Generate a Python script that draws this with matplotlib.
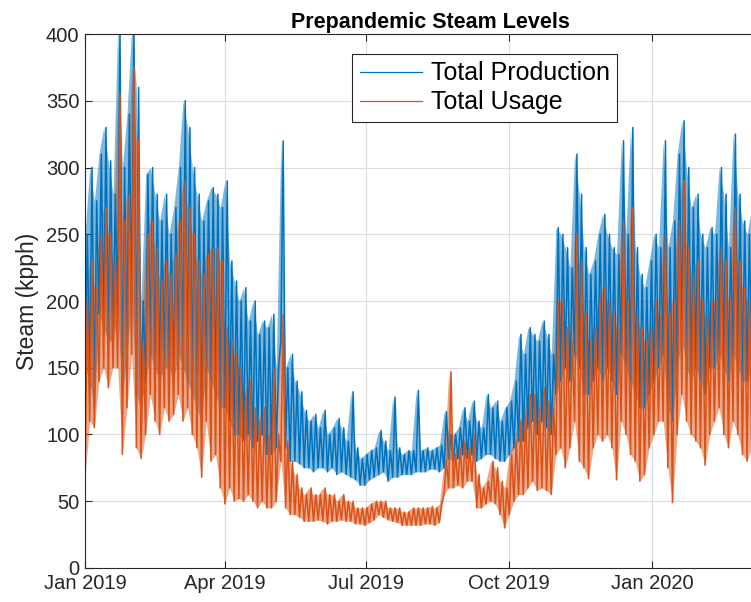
import numpy as np
import matplotlib.pyplot as plt
import matplotlib.dates as mdates

plt.rcParams['font.family'] = ['Liberation Sans', 'DejaVu Sans']

# 3-day windows starting 2019-01-01: peak and trough of each series (kpph)
prod_hi = [250, 300, 275, 310, 330, 305, 280, 405, 300, 340,
           405, 360, 200, 295, 300, 280, 260, 280, 250, 270,
           300, 350, 330, 300, 280, 260, 275, 285, 280, 270,
           290, 230, 215, 200, 210, 185, 200, 175, 185, 180,
           190, 150, 320, 150, 160, 140, 132, 118, 110, 115,
           105, 118, 100, 105, 112, 105, 95, 132, 90, 82,
           85, 88, 90, 103, 95, 88, 128, 90, 85, 88,
           88, 133, 88, 90, 88, 90, 92, 117, 100, 100,
           105, 120, 110, 125, 110, 105, 130, 120, 125, 110,
           120, 125, 140, 175, 160, 180, 175, 170, 185, 175,
           160, 255, 250, 240, 225, 310, 280, 240, 220, 230,
           250, 265, 250, 240, 235, 320, 250, 330, 240, 220,
           210, 230, 250, 240, 320, 240, 260, 310, 335, 300,
           270, 280, 250, 240, 255, 250, 300, 280, 240, 325,
           280, 260, 250, 270]
prod_lo = [150, 140, 120, 190, 180, 170, 170, 190, 130, 160,
           200, 130, 120, 140, 160, 150, 140, 150, 150, 140,
           160, 150, 140, 130, 120, 110, 150, 140, 130, 120,
           120, 110, 100, 100, 95, 100, 90, 95, 100, 85,
           85, 90, 170, 90, 80, 80, 78, 75, 75, 72,
           75, 75, 72, 75, 70, 72, 70, 68, 66, 62,
           62, 66, 68, 70, 72, 65, 68, 68, 70, 70,
           70, 72, 72, 72, 74, 74, 72, 75, 82, 80,
           82, 85, 82, 85, 80, 82, 85, 85, 82, 80,
           80, 85, 90, 95, 95, 105, 110, 100, 110, 105,
           100, 130, 140, 150, 140, 160, 150, 130, 130, 140,
           150, 140, 150, 140, 130, 160, 150, 140, 130, 120,
           120, 130, 140, 150, 160, 120, 110, 150, 170, 150,
           140, 150, 140, 130, 150, 150, 160, 150, 140, 160,
           150, 140, 140, 150]
use_hi = [200, 230, 210, 250, 270, 250, 230, 355, 260, 280,
          375, 320, 170, 250, 260, 240, 215, 230, 220, 235,
          260, 290, 270, 250, 230, 220, 235, 240, 240, 230,
          180, 170, 160, 150, 130, 140, 120, 110, 120, 100,
          150, 100, 190, 95, 80, 70, 60, 55, 60, 55,
          55, 60, 55, 55, 50, 55, 50, 50, 45, 45,
          45, 48, 50, 50, 50, 45, 45, 45, 42, 42,
          45, 45, 45, 45, 46, 45, 48, 80, 147, 85,
          90, 95, 90, 100, 70, 60, 65, 80, 75, 65,
          60, 85, 95, 110, 115, 130, 130, 120, 135, 125,
          120, 200, 200, 180, 170, 250, 230, 190, 170, 180,
          200, 210, 200, 190, 180, 260, 200, 270, 190, 180,
          170, 180, 200, 190, 250, 190, 200, 260, 290, 240,
          220, 230, 200, 190, 200, 200, 240, 230, 200, 270,
          230, 210, 200, 220]
use_lo = [68, 110, 105, 140, 150, 135, 150, 150, 85, 120,
          160, 90, 82, 100, 130, 110, 100, 120, 110, 115,
          130, 110, 120, 100, 90, 68, 110, 80, 85, 60,
          48, 60, 50, 52, 50, 55, 50, 45, 50, 45,
          45, 50, 80, 45, 40, 40, 38, 35, 35, 35,
          36, 35, 33, 35, 35, 36, 35, 35, 33, 33,
          32, 34, 36, 40, 38, 36, 35, 34, 32, 32,
          32, 32, 32, 33, 33, 32, 34, 55, 60, 60,
          62, 60, 65, 65, 45, 45, 48, 50, 48, 40,
          30, 40, 50, 55, 55, 60, 65, 58, 60, 58,
          55, 85, 90, 75, 90, 110, 80, 75, 67, 90,
          100, 95, 100, 90, 66, 110, 100, 85, 80, 65,
          70, 90, 100, 110, 110, 75, 49, 100, 130, 110,
          100, 95, 90, 77, 100, 110, 120, 100, 90, 110,
          100, 85, 80, 90]

labels = ['Total Production', 'Total Usage']
colors = ['#0072BD', '#D95319']

start = np.datetime64('2019-01-01T00')
step_h = 72  # hours per window


def zigzag(lo, hi):
    # trough at the start of each window, peak half way through it
    n = len(lo)
    t = np.empty(2 * n, dtype='datetime64[h]')
    v = np.empty(2 * n)
    t[0::2] = start + np.arange(n) * step_h
    t[1::2] = start + np.arange(n) * step_h + step_h // 2
    v[0::2] = lo
    v[1::2] = hi
    return t, v


fig = plt.figure(figsize=(7.51, 6.02), dpi=100)
ax = fig.add_axes([0.1132, 0.0565, 0.9188, 0.887])

for lo, hi, c, lab in [(prod_lo, prod_hi, colors[0], labels[0]),
                       (use_lo, use_hi, colors[1], labels[1])]:
    t, v = zigzag(lo, hi)
    ax.fill_between(t[0::2], lo, hi, color=c, alpha=0.5, lw=0)
    ax.plot(t, v, color=c, lw=1.1, label=lab)

ax.set_xlim(np.datetime64('2019-01-01'), np.datetime64('2020-03-20'))
ax.set_ylim(0, 400)
ax.set_yticks(np.arange(0, 401, 50))
ax.xaxis.set_major_locator(mdates.MonthLocator(bymonth=[1, 4, 7, 10]))
ax.xaxis.set_major_formatter(mdates.DateFormatter('%b %Y'))

ax.grid(True, color='#dcdcdc', lw=0.8)
ax.set_axisbelow(True)
for s in ax.spines.values():
    s.set_color('#262626')
    s.set_linewidth(0.8)
ax.tick_params(direction='in', length=5, width=0.8, colors='#262626',
               labelsize=14.5, top=True, right=True, pad=4)

ax.set_ylabel('Steam (kpph)', fontsize=16.5, color='#262626', labelpad=5)
ax.set_title('Prepandemic Steam Levels', fontsize=15.5, fontweight='bold',
             color='black', pad=4)

leg = ax.legend(loc='upper left', bbox_to_anchor=(0.387, 0.963), fontsize=18,
                fancybox=False, framealpha=1, edgecolor='#262626',
                handlelength=2.5, borderpad=0.3, labelspacing=0.2,
                handletextpad=0.35, borderaxespad=0)
leg.get_frame().set_linewidth(0.8)
for h in leg.get_lines():
    h.set_linewidth(0.9)

fig.savefig('out.png', dpi=100)
